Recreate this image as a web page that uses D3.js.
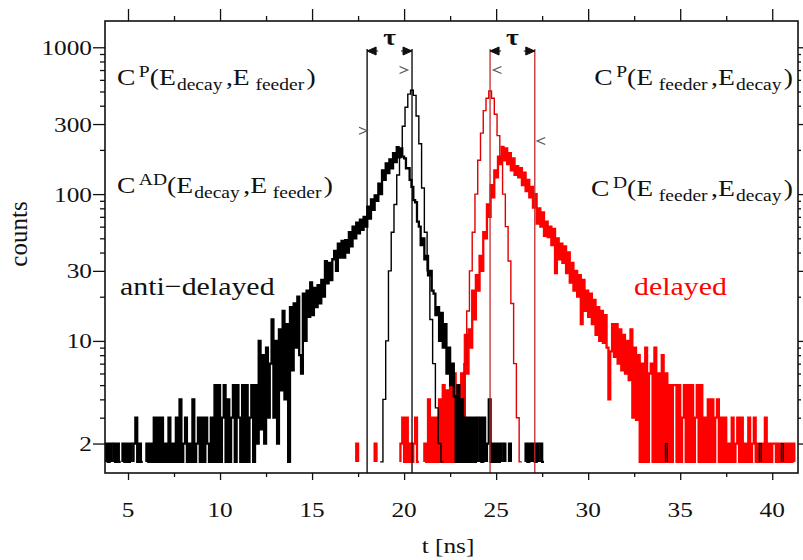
<!DOCTYPE html>
<html>
<head>
<meta charset="utf-8">
<script src="https://cdn.jsdelivr.net/npm/d3@7"></script>
<style>
  body { margin: 0; background: #fff; }
  svg { display: block; }
  text { font-family: "Liberation Serif", "Times New Roman", serif; fill: #111; }
</style>
</head>
<body>
<svg id="chart" width="803" height="560"></svg>
<script>
// ---- time spectra (counts per bin) ----
const noisyBinWidth = 0.1;   // ns
const promptBinWidth = 0.15; // ns
const countFloor = 1.5;      // lowest drawn level of the histograms

// anti-delayed spectrum C^AD(E_decay, E_feeder), bins from 3.8 ns
const antiDelayedStart = 3.8;
const antiDelayedCounts = [
  2, 1.5, 2, 0, 2, 1.5, 2, 1.5, 0, 2,
  1.5, 2, 1.5, 2, 0, 2, 3, 1.5, 2, 1.5,
  0, 0, 2, 1.5, 2, 1.5, 3, 1.5, 3, 1.5,
  3, 1.5, 2, 1.5, 3, 1.5, 2, 1.5, 3, 1.5,
  4, 1.5, 2, 3, 1.5, 2, 1.5, 4, 1.5, 2,
  3, 1.5, 3, 1.5, 3, 2, 1.5, 3, 1.5, 5,
  1.5, 5, 1.5, 3, 5, 1.5, 4, 1.5, 3, 5,
  1.5, 5, 3, 1.5, 5, 1.5, 5, 1.5, 3, 5,
  1.5, 5, 2, 10, 2.5, 8, 2, 9, 3, 7,
  14, 3, 10, 2, 12, 4.6, 16, 4, 13, 1.5,
  17, 6.3, 18, 9, 20, 8, 6, 21, 10, 22,
  14.6, 25, 15, 23, 17, 24, 18, 26, 20, 35,
  24.7, 34, 26, 36, 41, 30, 46, 37, 48, 37,
  48.5, 40, 55, 44, 60, 50, 64, 54, 67, 57,
  70, 60, 82, 68, 92, 78, 98, 90, 118, 100,
  145, 125, 162, 139, 172, 150, 190, 165, 209, 178,
  205, 180, 175, 150, 150, 125, 112, 91, 88, 65,
  60, 45, 50, 36, 38, 28, 30, 22, 21, 15,
  17, 10, 15.5, 9, 13, 6, 9, 5, 7, 4.2,
  1.5, 5, 1.5, 4, 1.5, 3, 1.5, 3, 1.5, 3,
  1.5, 3, 0, 3, 1.5, 3, 0, 2, 4, 1.5,
  2, 1.5, 2, 1.5, 2, 0, 2, 0, 0, 2,
  0, 0, 0, 0, 0, 0, 0, 0, 2, 1.5,
  2, 0, 2, 1.5, 2, 0, 2, 1.5, 0, 0
];
// isolated late anti-delayed bins
const antiLateTimes = [34.2, 39.3, 40.5];
const antiLateCounts = [2, 2, 2];

// delayed spectrum C^D(E_feeder, E_decay), bins from 17.4 ns
const delayedStart = 17.4;
const delayedCounts = [
  2, 0, 0, 0, 0, 0, 0, 0, 0, 0,
  2, 0, 0, 0, 0, 0, 0, 0, 0, 0,
  0, 0, 0, 0, 2, 3, 1.5, 3, 1.5, 2,
  1.5, 2, 3, 1.5, 0, 0, 0, 2, 1.5, 4,
  1.5, 3, 1.5, 3, 1.5, 4, 1.5, 5, 1.5, 4.6,
  1.5, 5, 1.5, 6, 1.5, 5, 1.5, 6, 3, 11,
  6, 12, 9, 22, 14, 28, 22, 38, 30, 55,
  50, 85, 70, 115, 95, 145, 130, 180, 160, 210,
  170, 205, 160, 190, 145, 175, 135, 155, 130, 150,
  115, 140, 105, 125, 95, 112, 81, 100, 63, 80,
  60, 75, 52, 65, 51, 60, 45, 58, 29, 50,
  36, 46, 34, 44, 29, 40, 25, 34, 22, 30,
  20, 28, 13, 26, 16, 22, 14.6, 21, 13, 19,
  11, 17, 10, 16, 9.7, 15, 9, 4, 8.5, 13,
  7.8, 13, 7, 12, 6.3, 11, 6, 10, 5.4, 12,
  3, 9, 2.9, 8, 1.5, 7, 1.5, 9, 1.5, 6,
  7, 1.5, 9, 1.5, 6, 1.5, 8, 1.5, 6, 1.5,
  5, 1.5, 5, 5, 1.5, 5, 1.5, 3, 5, 1.5,
  5, 1.5, 5, 1.5, 3, 5, 1.5, 5, 1.5, 3,
  1.5, 4, 1.5, 4, 1.5, 3, 4, 1.5, 3, 1.5,
  3, 1.5, 2, 1.5, 3, 1.5, 2, 3, 1.5, 3,
  1.5, 2, 1.5, 3, 1.5, 2, 3, 1.5, 2, 1.5,
  2, 1.5, 3, 1.5, 2, 1.5, 2, 2, 1.5, 2,
  1.5, 2, 1.5, 2, 1.5, 2, 1.5, 2
];

// prompt spectrum C^P(E_decay, E_feeder)
const promptAntiStart = 18.7;
const promptAntiCounts = [
  1.5, 4, 10, 30, 55, 85, 135, 200, 290, 390, 480, 510,
  470, 340, 220, 110, 55, 30, 14, 7, 3.5, 2, 1.5
];
// prompt spectrum C^P(E_feeder, E_decay)
const promptDelayedStart = 22.95;
const promptDelayedCounts = [
  1.5, 3, 7, 16, 30, 55, 100, 170, 260, 370, 450, 505,
  450, 350, 250, 165, 100, 60, 35, 18, 7, 3, 1.5
];

// centroid markers and time windows (ns)
const antiWindow = [17.99, 20.43];
const delayedWindow = [24.67, 27.1];

// axes
const xDomain = [3.75, 41.4];
const yDomain = [1.26, 1510];
const xMajorTicks = [5, 10, 15, 20, 25, 30, 35, 40];
const xMinorTicks = [7.5, 12.5, 17.5, 22.5, 27.5, 32.5, 37.5];
const yLabelTicks = [2, 10, 30, 100, 300, 1000];

// ---- layout ----
const frame = { left: 105, right: 798, top: 21, bottom: 473 };
const textStretch = 1.15;
const svg = d3.select("#chart");
const x = d3.scaleLinear().domain(xDomain).range([frame.left, frame.right]);
const y = d3.scaleLog().domain(yDomain).range([frame.bottom, frame.top]);

svg.append("defs").append("clipPath").attr("id", "plotClip")
  .append("rect")
  .attr("x", frame.left).attr("y", frame.top)
  .attr("width", frame.right - frame.left).attr("height", frame.bottom - frame.top);

const plot = svg.append("g").attr("clip-path", "url(#plotClip)");

// step outline of a histogram; empty bins (0) break the outline,
// and each run of filled bins is closed down to the floor level
function histogramRuns(start, width, counts) {
  const runs = [];
  let run = null;
  counts.forEach((c, i) => {
    const t0 = start + i * width, t1 = t0 + width;
    if (c > 0) {
      if (!run) { run = [[t0, countFloor]]; }
      run.push([t0, c], [t1, c]);
    } else if (run) {
      run.push([run[run.length - 1][0], countFloor]);
      runs.push(run); run = null;
    }
  });
  if (run) { run.push([run[run.length - 1][0], countFloor]); runs.push(run); }
  return runs;
}

const stepLine = d3.line().x(d => x(d[0])).y(d => y(d[1]));

function drawHistogram(start, width, counts, color, strokeWidth) {
  plot.append("g").selectAll("path")
    .data(histogramRuns(start, width, counts))
    .join("path")
    .attr("d", stepLine)
    .attr("fill", "none")
    .attr("stroke", color)
    .attr("stroke-width", strokeWidth)
    .attr("stroke-linejoin", "miter");
}

// delayed (red) under anti-delayed (black)
drawHistogram(delayedStart, noisyBinWidth, delayedCounts, "#ff0000", 2.3);
drawHistogram(promptDelayedStart, promptBinWidth, promptDelayedCounts, "#e00000", 1.4);
drawHistogram(antiDelayedStart, noisyBinWidth, antiDelayedCounts, "#000", 2.3);
antiLateTimes.forEach((t, i) =>
  drawHistogram(t, noisyBinWidth, [antiLateCounts[i]], "#000", 1.3));
drawHistogram(promptAntiStart, promptBinWidth, promptAntiCounts, "#000", 1.4);

// stretched text helper (labels in this figure are set slightly wide)
function wideText(parent, px, py, str, size, anchor) {
  return parent.append("text")
    .attr("transform", `translate(${px},${py}) scale(${textStretch},1)`)
    .attr("text-anchor", anchor || "start")
    .attr("font-size", size)
    .text(str);
}

// time-window lines with tau brackets
const markTop = 49;
function drawWindow(win, color) {
  const g = svg.append("g");
  win.forEach(t => {
    g.append("line")
      .attr("x1", x(t)).attr("x2", x(t))
      .attr("y1", markTop).attr("y2", frame.bottom)
      .attr("stroke", color).attr("stroke-width", 1.3);
  });
  const xa = x(win[0]), xb = x(win[1]);
  // arrowheads pointing out onto the window lines
  g.append("path")
    .attr("d", `M${xa},${markTop + 2} l9,-4 l0,8 z M${xa},${markTop + 2} h11`)
    .attr("fill", "#111").attr("stroke", "#111").attr("stroke-width", 1);
  g.append("path")
    .attr("d", `M${xb},${markTop + 2} l-9,-4 l0,8 z M${xb},${markTop + 2} h-11`)
    .attr("fill", "#111").attr("stroke", "#111").attr("stroke-width", 1);
  wideText(g, (xa + xb) / 2, 45, "τ", 24, "middle").attr("font-weight", "bold");
}
drawWindow(antiWindow, "#000");
drawWindow(delayedWindow, "#c22a2a");

// centroid chevrons
function chevron(t, v, dir) {
  const px = x(t), py = y(v);
  svg.append("path")
    .attr("d", `M${px - 4 * dir},${py - 3.5} L${px + 4 * dir},${py} L${px - 4 * dir},${py + 3.5}`)
    .attr("fill", "none").attr("stroke", "#555").attr("stroke-width", 1.3);
}
chevron(17.77, 270, 1);
chevron(19.97, 700, 1);
chevron(25.07, 700, -1);
chevron(27.45, 230, -1);

// ---- axes ----
const allMinorY = y.ticks(30).filter(v => v >= yDomain[0] && v <= yDomain[1] && !yLabelTicks.includes(v));

function styleAxis(g) {
  g.select(".domain").remove();
  g.selectAll(".tick line").attr("stroke", "#111").attr("stroke-width", 1.3);
}

svg.append("g").attr("transform", `translate(0,${frame.bottom})`)
  .call(d3.axisBottom(x).tickValues(xMajorTicks).tickSize(7).tickFormat(""))
  .call(styleAxis);
svg.append("g").attr("transform", `translate(0,${frame.bottom})`)
  .call(d3.axisBottom(x).tickValues(xMinorTicks).tickSize(4).tickFormat(""))
  .call(styleAxis);
svg.append("g").attr("transform", `translate(0,${frame.top})`)
  .call(d3.axisTop(x).tickValues(xMajorTicks).tickSize(12).tickFormat(""))
  .call(styleAxis);
svg.append("g").attr("transform", `translate(0,${frame.top})`)
  .call(d3.axisTop(x).tickValues(xMinorTicks).tickSize(5).tickFormat(""))
  .call(styleAxis);

svg.append("g").attr("transform", `translate(${frame.left},0)`)
  .call(d3.axisLeft(y).tickValues(yLabelTicks).tickSize(12).tickFormat(""))
  .call(styleAxis);
svg.append("g").attr("transform", `translate(${frame.left},0)`)
  .call(d3.axisLeft(y).tickValues(allMinorY).tickSize(5).tickFormat(""))
  .call(styleAxis);
svg.append("g").attr("transform", `translate(${frame.right},0)`)
  .call(d3.axisRight(y).tickValues(yLabelTicks).tickSize(6).tickFormat(""))
  .call(styleAxis);
svg.append("g").attr("transform", `translate(${frame.right},0)`)
  .call(d3.axisRight(y).tickValues(allMinorY).tickSize(3).tickFormat(""))
  .call(styleAxis);

// tick labels
const tickLabels = svg.append("g");
xMajorTicks.forEach(t => wideText(tickLabels, x(t), 517, String(t), 22, "middle"));
yLabelTicks.forEach(v => wideText(tickLabels, 92, y(v) + 7.5, String(v), 22, "end"));

svg.append("rect")
  .attr("x", frame.left).attr("y", frame.top)
  .attr("width", frame.right - frame.left).attr("height", frame.bottom - frame.top)
  .attr("fill", "none").attr("stroke", "#111").attr("stroke-width", 1.6);

wideText(svg, 448, 553, "t [ns]", 22, "middle");
svg.append("text")
  .attr("transform", "translate(27,234) rotate(-90)")
  .attr("text-anchor", "middle")
  .attr("font-size", 25).text("counts");

// ---- spectrum labels ----
function richLabel(px, py, parts, anchor, color) {
  const t = svg.append("text")
    .attr("transform", `translate(${px},${py}) scale(${textStretch},1)`)
    .attr("text-anchor", anchor).style("fill", color || "#111");
  let prev = 0;
  parts.forEach(p => {
    const shift = p.shift || 0;
    t.append("tspan")
      .attr("font-size", p.size)
      .attr("dx", p.dx || 0)
      .attr("dy", shift - prev)
      .text(p.text);
    prev = shift;
  });
}
const big = 24, small = 17;
function energyPair(sup, first, second, gapFirst, gapSecond) {
  return [
    { text: "C", size: big },
    { text: sup, size: small, shift: -8, dx: 3 },
    { text: "(E", size: big, shift: 0 },
    { text: first, size: small, shift: 5, dx: gapFirst },
    { text: ",E", size: big, shift: 0, dx: 3 },
    { text: second, size: small, shift: 5, dx: gapSecond },
    { text: ")", size: big, shift: 0, dx: 2 }
  ];
}
richLabel(117, 85, energyPair("P", "decay", "feeder", 1, 5), "start");
richLabel(117, 193, energyPair("AD", "decay", "feeder", 1, 5), "start");
richLabel(793, 85, energyPair("P", "feeder", "decay", 5, 1), "end");
richLabel(793, 196, energyPair("D", "feeder", "decay", 5, 1), "end");

wideText(svg, 120, 295, "anti−delayed", 26, "start");
wideText(svg, 634, 295, "delayed", 26, "start").style("fill", "#ff0000");
</script>
</body>
</html>
